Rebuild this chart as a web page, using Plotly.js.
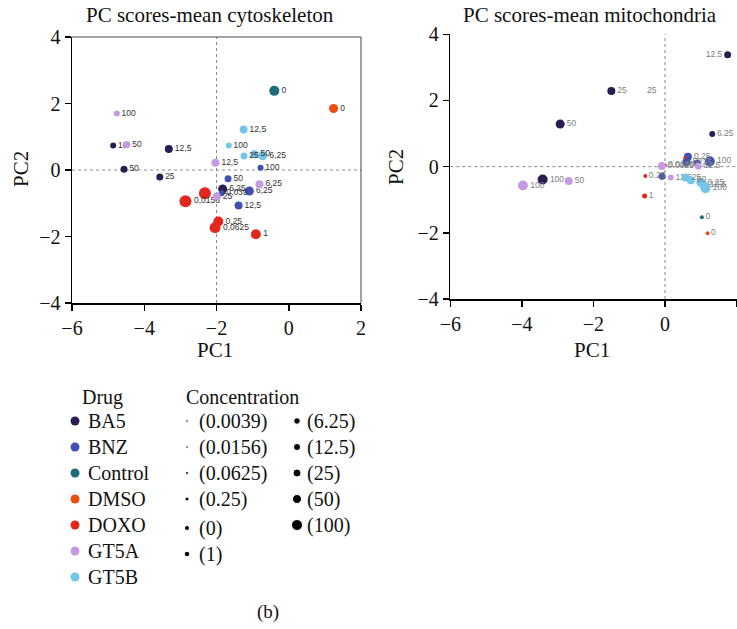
<!DOCTYPE html>
<html><head><meta charset="utf-8">
<script src="https://cdn.plot.ly/plotly-3.0.1.min.js"></script>
<style>html,body{margin:0;padding:0;background:#fff}#chart{width:737px;height:629px}</style>
</head><body><div id="chart"></div>
<script>
// ---------- categories ----------
const drugs = ["BA5", "BNZ", "Control", "DMSO", "DOXO", "GT5A", "GT5B"];
const drugColors = ["#2b1d52", "#3f50b0", "#1f6c78", "#ee4d10", "#e2281e", "#c49be3", "#74c6e9"];
const concLabels = ["(0.0039)", "(0.0156)", "(0.0625)", "(0.25)", "(0)", "(1)", "(6.25)", "(12.5)", "(25)", "(50)", "(100)"];
const concMag = [2.5, 2.5, 3, 4, 5, 5.5, 6.5, 7, 8, 9, 11];

// ---------- PC scores-mean cytoskeleton ----------
const cytoDrug  = ["BA5","BA5","BA5","BA5","BA5",
                   "BNZ","BNZ","BNZ","BNZ","BNZ",
                   "Control","DMSO",
                   "DOXO","DOXO","DOXO","DOXO","DOXO",
                   "GT5A","GT5A","GT5A","GT5A","GT5A",
                   "GT5B","GT5B","GT5B","GT5B","GT5B"];
const cytoPC1   = [-4.86,-4.56,-3.32,-3.57,-1.83,
                   -0.78,-1.68,-1.09,-1.39,-1.86,
                   -0.40, 1.24,
                   -2.32,-2.86,-1.95,-2.04,-0.91,
                   -4.76,-4.48,-2.03,-0.81,-1.99,
                   -1.25,-1.66,-1.24,-0.95,-0.72];
const cytoPC2   = [0.74,0.02,0.63,-0.21,-0.57,
                   0.07,-0.26,-0.63,-1.07,-0.70,
                   2.38,1.85,
                   -0.70,-0.94,-1.55,-1.73,-1.93,
                   1.70,0.77,0.22,-0.43,-0.80,
                   1.22,0.74,0.42,0.47,0.43];
const cytoLabel = ["10","50","12,5","25","6,25",
                   "100","50","6,25","12,5","0,039",
                   "0","0",
                   "","0,0156","0,25","0,0625","1",
                   "100","50","12,5","6,25","25",
                   "12,5","100","25","50","6,25"];
const cytoMag   = [6,7,8,7,9,
                   6,7,9,8,6,
                   10,9,
                   12,12,10,11,10,
                   6,7,8,8,8,
                   8,6,7,8,9];

// ---------- PC scores-mean mitochondria ----------
const mitoDrug  = ["BA5","BA5","BA5","BA5","BA5",
                   "BNZ","BNZ","BNZ","BNZ","BNZ",
                   "Control","DMSO",
                   "DOXO","DOXO","DOXO","DOXO",
                   "GT5A","GT5A","GT5A","GT5A","GT5A",
                   "GT5B","GT5B","GT5B","GT5B","GT5B"];
const mitoPC1   = [1.75,-1.50,-2.93,1.32,-3.42,
                   -0.08,0.64,0.60,0.90,1.25,
                   1.03,1.19,
                   -0.55,-0.57,0.01,0.55,
                   -3.97,-2.69,-0.09,0.16,0.93,
                   0.57,0.72,1.00,1.08,1.13];
const mitoPC2   = [3.38,2.29,1.29,0.99,-0.39,
                   -0.29,0.30,0.14,0.11,0.16,
                   -1.53,-2.01,
                   -0.28,-0.89,0.05,0.27,
                   -0.57,-0.43,0.02,-0.33,0.01,
                   -0.33,-0.41,-0.48,-0.55,-0.65];
const mitoLabel = ["12.5","25","50","6.25","100",
                   "","0.25","50","25","100",
                   "0","0",
                   "0.25","1","0.0156","",
                   "100","50","0.0625","12.5","12.5",
                   "25","50","6.25","12.5","100"];
const mitoMag   = [7,8,9,6,10,
                   7,8,8,7,10,
                   4,4,
                   4,5,3,3,
                   10,8,8,6,7,
                   8,8,9,8,10];
const mitoExtraLabel = ["25"];
const mitoExtraPC1 = [-0.37];
const mitoExtraPC2 = [2.29];

// ---------- build ----------
const serif = "Liberation Serif, Times New Roman, serif";
const sans = "Liberation Sans, Arial, sans-serif";
const traces = [];

function addPanel(dArr, xArr, yArr, lArr, mArr, xa, ya, txtColor) {
  drugs.forEach((d, di) => {
    const idx = dArr.map((v, i) => v === d ? i : -1).filter(i => i >= 0);
    if (!idx.length) return;
    traces.push({
      type: "scatter", mode: "markers+text", xaxis: xa, yaxis: ya,
      x: idx.map(i => xArr[i]), y: idx.map(i => yArr[i]),
      text: idx.map(i => lArr[i]),
      textposition: idx.map(i => xArr[i] > 1.6 ? "middle left" : "middle right"),
      textfont: {family: sans, size: 8.5, color: txtColor},
      marker: {color: drugColors[di], size: idx.map(i => mArr[i]), opacity: 1, line: {width: 0}},
      cliponaxis: false, showlegend: false, hoverinfo: "skip"
    });
  });
}
addPanel(cytoDrug, cytoPC1, cytoPC2, cytoLabel, cytoMag, "x", "y", "#333333");
addPanel(mitoDrug, mitoPC1, mitoPC2, mitoLabel, mitoMag, "x2", "y2", "#808080");
traces.push({
  type: "scatter", mode: "text", xaxis: "x2", yaxis: "y2",
  x: mitoExtraPC1, y: mitoExtraPC2, text: mitoExtraLabel,
  textfont: {family: sans, size: 8.5, color: "#808080"},
  showlegend: false, hoverinfo: "skip"
});

// ---------- custom legend (hidden pixel axes) ----------
const rowY0 = 421, rowStep = 26;
traces.push({
  type: "scatter", mode: "markers", xaxis: "x3", yaxis: "y3",
  x: drugs.map(() => 75), y: drugs.map((d, i) => rowY0 + i * rowStep),
  marker: {color: drugColors, size: 9, opacity: 1}, showlegend: false, hoverinfo: "skip", cliponaxis: false
});
traces.push({
  type: "scatter", mode: "markers", xaxis: "x3", yaxis: "y3",
  x: concLabels.map((c, i) => i < 6 ? 187 : 297),
  y: concLabels.map((c, i) => rowY0 + (i < 6 ? i : i - 6) * rowStep + (i === 4 || i === 5 ? 3 : 0)),
  marker: {color: "#000", size: concMag, opacity: 1}, showlegend: false, hoverinfo: "skip", cliponaxis: false
});

const annotations = [];
const legFont = {family: serif, size: 20, color: "#111"};
annotations.push({xref: "x3", yref: "y3", x: 80, y: 397, text: "Drug", showarrow: false, xanchor: "left", yanchor: "middle", font: legFont});
annotations.push({xref: "x3", yref: "y3", x: 184, y: 397, text: "Concentration", showarrow: false, xanchor: "left", yanchor: "middle", font: legFont});
drugs.forEach((d, i) => annotations.push({xref: "x3", yref: "y3", x: 86, y: rowY0 + i * rowStep, text: d, showarrow: false, xanchor: "left", yanchor: "middle", font: legFont}));
concLabels.forEach((c, i) => annotations.push({xref: "x3", yref: "y3",
  x: i < 6 ? 197 : 305, y: rowY0 + (i < 6 ? i : i - 6) * rowStep + (i === 4 || i === 5 ? 3 : 0),
  text: c, showarrow: false, xanchor: "left", yanchor: "middle", font: legFont}));
annotations.push({xref: "x3", yref: "y3", x: 268, y: 612, text: "(b)", showarrow: false, xanchor: "center", yanchor: "middle", font: {family: serif, size: 19, color: "#111"}});
// panel titles
annotations.push({xref: "x3", yref: "y3", x: 210, y: 15, text: "PC scores-mean cytoskeleton", showarrow: false, xanchor: "center", yanchor: "middle", font: {family: serif, size: 21, color: "#111"}});
annotations.push({xref: "x3", yref: "y3", x: 590, y: 15, text: "PC scores-mean mitochondria", showarrow: false, xanchor: "center", yanchor: "middle", font: {family: serif, size: 21, color: "#111"}});
// axis titles
const axT = {family: serif, size: 21, color: "#111"};
annotations.push({xref: "x3", yref: "y3", x: 215, y: 350, text: "PC1", showarrow: false, xanchor: "center", yanchor: "middle", font: axT});
annotations.push({xref: "x3", yref: "y3", x: 592, y: 350, text: "PC1", showarrow: false, xanchor: "center", yanchor: "middle", font: axT});
annotations.push({xref: "x3", yref: "y3", x: 21, y: 169, text: "PC2", showarrow: false, textangle: -90, xanchor: "center", yanchor: "middle", font: axT});
annotations.push({xref: "x3", yref: "y3", x: 396, y: 167, text: "PC2", showarrow: false, textangle: -90, xanchor: "center", yanchor: "middle", font: axT});

const baseAxis = {
  range: [-6, 2], showgrid: false, zeroline: false, showline: true, linecolor: "#000", linewidth: 1.5,
  ticks: "outside", ticklen: 6, tickwidth: 1.5, tickcolor: "#000", dtick: 2,
  tickfont: {family: serif, size: 20, color: "#111"}, fixedrange: true
};
const yBase = Object.assign({}, baseAxis, {range: [-4, 4]});

const dot = {color: "#8a8a8a", width: 1, dash: "dot"};
const shapes = [
  {type: "line", xref: "x", yref: "y domain", x0: -2, x1: -2, y0: 0, y1: 1, line: dot, layer: "below"},
  {type: "line", xref: "x domain", yref: "y", x0: 0, x1: 1, y0: 0, y1: 0, line: dot, layer: "below"},
  {type: "line", xref: "x2", yref: "y2 domain", x0: 0, x1: 0, y0: 0, y1: 1, line: dot, layer: "below"},
  {type: "line", xref: "x2 domain", yref: "y2", x0: 0, x1: 1, y0: 0, y1: 0, line: dot, layer: "below"},
  {type: "line", xref: "x domain", yref: "y domain", x0: 0, x1: 1, y0: 1, y1: 1, line: {color: "#444", width: 1}},
  {type: "line", xref: "x domain", yref: "y domain", x0: 1, x1: 1, y0: 0, y1: 1, line: {color: "#444", width: 1}}
];

const layout = {
  width: 737, height: 629, margin: {l: 0, r: 0, t: 0, b: 0},
  paper_bgcolor: "#fff", plot_bgcolor: "rgba(0,0,0,0)", showlegend: false,
  xaxis: Object.assign({}, baseAxis, {domain: [72/737, 361/737], anchor: "y"}),
  yaxis: Object.assign({}, yBase, {domain: [326/629, 592/629], anchor: "x"}),
  xaxis2: Object.assign({}, baseAxis, {domain: [450.3/737, 736.6/737], anchor: "y2"}),
  yaxis2: Object.assign({}, yBase, {domain: [330/629, 594.7/629], anchor: "x2"}),
  xaxis3: {domain: [0, 1], range: [0, 737], visible: false, fixedrange: true, anchor: "y3"},
  yaxis3: {domain: [0, 1], range: [629, 0], visible: false, fixedrange: true, anchor: "x3"},
  shapes: shapes, annotations: annotations
};
Plotly.newPlot("chart", traces, layout, {displayModeBar: false, staticPlot: true});
</script></body></html>
